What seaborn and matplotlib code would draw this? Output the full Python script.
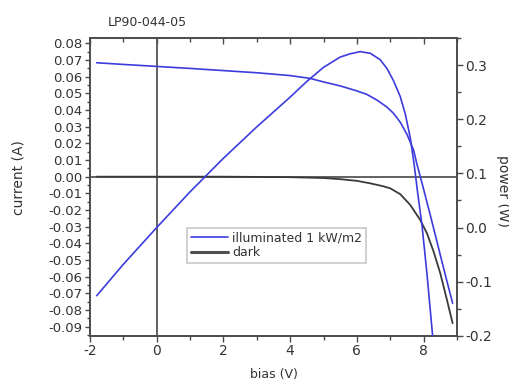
"""
Solar cell I-V sweep (LP90-044-05) - current and power vs bias,
illuminated at 1 kW/m2 and dark.
"""

import matplotlib
matplotlib.use("Agg")
import matplotlib.pyplot as plt
import matplotlib.ticker as mticker
from matplotlib.lines import Line2D
import pandas as pd
import seaborn as sns

# ── Data ──────────────────────────────────────────────────────────────────────
BIAS_LIGHT = [-1.8, -1.0, 0.0, 1.0, 2.0, 3.0, 4.0, 4.6, 5.0, 5.5, 6.0, 6.3,
              6.6, 6.9, 7.1, 7.3, 7.5, 7.7, 7.8, 7.9, 8.0, 8.2, 8.4, 8.6, 8.87]
CURRENT_LIGHT = [0.0684, 0.0674, 0.0662, 0.0650, 0.0637, 0.0624, 0.0607, 0.0590,
                 0.0569, 0.0545, 0.0515, 0.0494, 0.0460, 0.0418, 0.0380, 0.0327,
                 0.0255, 0.0160, 0.0075, 0.0000, -0.0075, -0.0230, -0.0390,
                 -0.0550, -0.0760]

BIAS_POWER = [-1.8, -1.0, 0.0, 1.0, 2.0, 3.0, 4.0, 4.5, 5.0, 5.5, 5.8, 6.1,
              6.4, 6.7, 6.9, 7.1, 7.3, 7.45, 7.6, 7.72, 7.82, 7.95, 8.1, 8.27]
POWER_LIGHT = [-0.126, -0.068, 0.0, 0.066, 0.128, 0.186, 0.241, 0.270, 0.296,
               0.315, 0.321, 0.325, 0.322, 0.310, 0.294, 0.271, 0.242, 0.210,
               0.166, 0.115, 0.065, 0.005, -0.085, -0.200]

BIAS_DARK = [-1.8, 0.0, 2.0, 4.0, 5.0, 5.5, 6.0, 6.4, 6.8, 7.0, 7.3, 7.6, 7.9,
             8.1, 8.3, 8.5, 8.7, 8.87]
CURRENT_DARK = [0.0, 0.0, 0.0, -0.0003, -0.0008, -0.0015, -0.0025, -0.0040,
                -0.0058, -0.0070, -0.0105, -0.0170, -0.0260, -0.0340, -0.0450,
                -0.0580, -0.0740, -0.0880]

LEGEND_LABELS = ["illuminated 1 kW/m2", "dark"]
TITLE = "LP90-044-05"

# ── Style ─────────────────────────────────────────────────────────────────────
sns.set_theme(style="ticks")
plt.rcParams.update({
    "font.family": ["DejaVu Sans"],
    "axes.unicode_minus": False,
    "figure.facecolor": "white",
    "axes.facecolor": "white",
})
BLUE = "#3c3cdc"
DARK = "#3a3a3a"
AXIS = "#4a4a4a"
TXT = "#333333"

light = pd.DataFrame({"bias": BIAS_LIGHT, "current": CURRENT_LIGHT})
power = pd.DataFrame({"bias": BIAS_POWER, "power": POWER_LIGHT})
dark = pd.DataFrame({"bias": BIAS_DARK, "current": CURRENT_DARK})

fig = plt.figure(figsize=(5.1, 3.85), dpi=100)
ax = fig.add_axes([0.1765, 0.128, 0.7195, 0.773])
ax2 = ax.twinx()

# zero reference lines
ax.axhline(0, color="#555555", lw=1.3, zorder=1)
ax.axvline(0, color="#555555", lw=1.3, zorder=1)

sns.lineplot(data=dark, x="bias", y="current", ax=ax, color=DARK, lw=1.3,
             sort=False, zorder=3)
sns.lineplot(data=light, x="bias", y="current", ax=ax, color=BLUE, lw=1.2,
             sort=False, zorder=4)
sns.lineplot(data=power, x="bias", y="power", ax=ax2, color=BLUE, lw=1.2,
             sort=False, zorder=4)

# ── Axes ──────────────────────────────────────────────────────────────────────
ax.set_xlim(-2, 9)
ax.set_ylim(-0.0955, 0.0832)
ax2.set_ylim(-0.2, 0.35)

ax.xaxis.set_major_locator(mticker.MultipleLocator(2))
ax.xaxis.set_minor_locator(mticker.MultipleLocator(1))
ax.yaxis.set_major_locator(mticker.MultipleLocator(0.01))
ax.yaxis.set_minor_locator(mticker.MultipleLocator(0.005))
ax.yaxis.set_major_formatter(mticker.FormatStrFormatter("%.2f"))
ax2.yaxis.set_major_locator(mticker.MultipleLocator(0.1))
ax2.yaxis.set_minor_locator(mticker.MultipleLocator(0.05))
ax2.yaxis.set_major_formatter(mticker.FormatStrFormatter("%.1f"))

for a in (ax, ax2):
    for s in a.spines.values():
        s.set_color(AXIS)
        s.set_linewidth(1.2)

ax.tick_params(axis="x", which="both", direction="out", colors=AXIS,
               labelcolor=TXT, labelsize=10, width=1, pad=2)
ax.tick_params(axis="x", which="major", length=4)
ax.tick_params(axis="x", which="minor", length=3)
ax.tick_params(axis="y", which="both", direction="out", colors=AXIS,
               labelcolor=TXT, labelsize=9.5, width=1, pad=2)
ax.tick_params(axis="y", which="major", length=3.5)
ax.tick_params(axis="y", which="minor", length=2)
ax2.tick_params(axis="y", which="both", direction="out", colors=AXIS,
                labelcolor=TXT, labelsize=10, width=1, pad=2)
ax2.tick_params(axis="y", which="major", length=4)
ax2.tick_params(axis="y", which="minor", length=3)

# inward ticks on the top spine
top = ax.secondary_xaxis("top")
top.xaxis.set_major_locator(mticker.MultipleLocator(2))
top.xaxis.set_minor_locator(mticker.MultipleLocator(1))
top.tick_params(axis="x", which="both", direction="in", colors=AXIS,
                width=1, labeltop=False)
top.tick_params(axis="x", which="major", length=4)
top.tick_params(axis="x", which="minor", length=3)
top.spines["top"].set_visible(False)

ax.set_xlabel("bias (V)", fontsize=9, color=TXT)
ax.xaxis.set_label_coords(0.5, -0.108)
ax.set_ylabel("current (A)", fontsize=10, color=TXT)
ax.yaxis.set_label_coords(-0.175, 0.53)
ax2.set_ylabel("power (W)", fontsize=10, color=TXT, rotation=-90,
               va="center")
ax2.yaxis.set_label_coords(1.125, 0.486)
fig.text(108 / 510, 1 - 22 / 385, TITLE, fontsize=9, color=TXT,
         ha="left", va="center")

handles = [Line2D([], [], color=BLUE, lw=1.2),
           Line2D([], [], color="#505050", lw=2.2)]
leg = ax2.legend(handles, LEGEND_LABELS, loc="upper left",
                 bbox_to_anchor=(0.264, 0.362), borderaxespad=0,
                 fontsize=9, frameon=True, fancybox=False, handlelength=3.0,
                 handletextpad=0.3, labelspacing=0.1, borderpad=0.3)
leg.get_frame().set_edgecolor("#bbbbbb")
leg.get_frame().set_linewidth(1.2)
for t in leg.get_texts():
    t.set_color(TXT)

fig.savefig("out.png", dpi=100)
